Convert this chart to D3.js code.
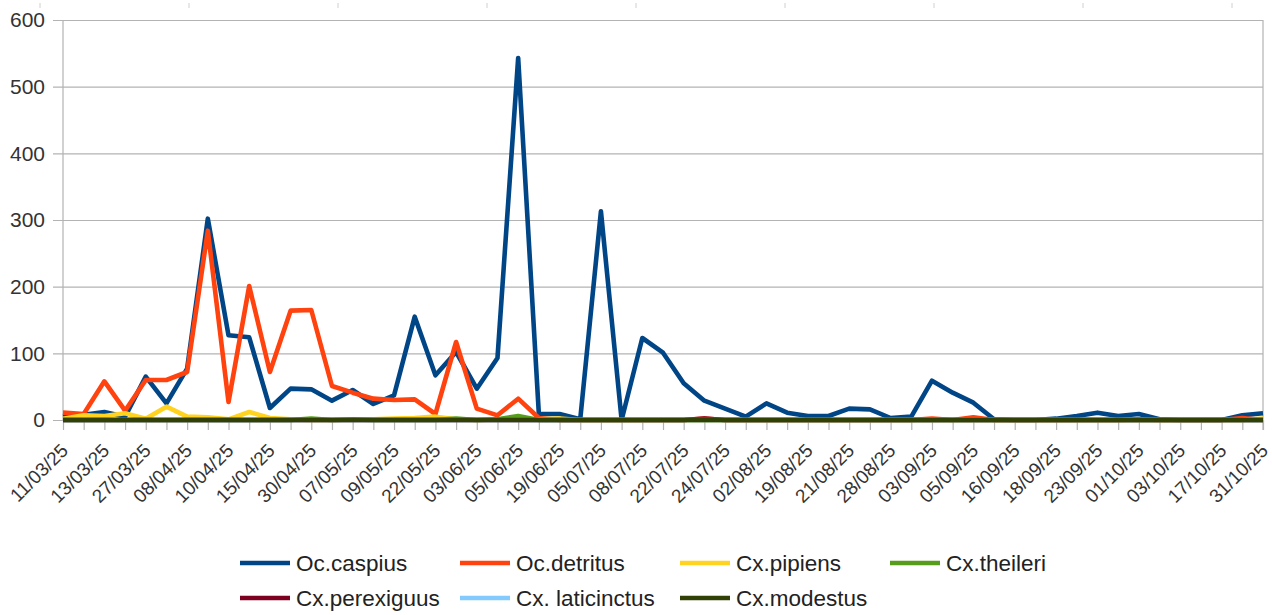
<!DOCTYPE html>
<html>
<head>
<meta charset="utf-8">
<script src="https://cdn.jsdelivr.net/npm/d3@7"></script>
<style>
  html, body { margin: 0; padding: 0; background: #fff; }
  svg { display: block; font-family: "Liberation Sans", Arial, sans-serif; }
</style>
</head>
<body>
<svg id="chart" width="1272" height="615"></svg>
<script>
// ---- data ----
const categories = [
  "11/03/25","12/03/25","13/03/25","25/03/25","27/03/25","01/04/25","08/04/25","09/04/25",
  "10/04/25","14/04/25","15/04/25","23/04/25","30/04/25","02/05/25","07/05/25","08/05/25",
  "09/05/25","14/05/25","22/05/25","27/05/25","03/06/25","04/06/25","05/06/25","12/06/25",
  "19/06/25","26/06/25","05/07/25","07/07/25","08/07/25","15/07/25","22/07/25","23/07/25",
  "24/07/25","29/07/25","02/08/25","07/08/25","19/08/25","20/08/25","21/08/25","26/08/25",
  "28/08/25","02/09/25","03/09/25","04/09/25","05/09/25","10/09/25","16/09/25","17/09/25",
  "18/09/25","22/09/25","23/09/25","30/09/25","01/10/25","02/10/25","03/10/25","10/10/25",
  "17/10/25","24/10/25","31/10/25"
];
const seriesNames = ["Oc.caspius","Oc.detritus","Cx.pipiens","Cx.theileri","Cx.perexiguus","Cx. laticinctus","Cx.modestus"];
const ocCaspius = [5,8,12,5,65,25,77,302,127,124,18,47,46,29,45,24,37,155,67,102,47,93,543,9,
  9,1,313,0,123,101,55,29,17,5,25,11,6,6,17,16,3,5,59,41,26,1,0,0,
  2,6,11,6,9,1,0,0,0,7,10];
const ocDetritus = [11,9,58,14,60,60,72,284,27,201,72,164,165,51,41,32,30,31,9,117,17,7,32,3,
  0,0,0,0,0,0,0,2,0,0,0,0,0,0,0,0,0,0,2,0,4,0,0,0,
  0,0,0,0,1,0,0,0,0,3,0];
const cxPipiens = [2,7,6,10,2,20,5,4,1,12,3,1,0,0,1,1,2,3,5,1,0,1,1,1,
  2,0,0,0,0,0,0,0,0,0,0,0,0,0,0,0,0,0,0,0,0,0,0,0,
  0,0,0,0,0,0,0,0,0,0,2];
const cxTheileri = [0,0,0,0,0,0,0,0,0,0,0,0,2,0,1,0,0,0,0,2,0,1,6,0,
  0,0,0,0,0,0,0,0,0,0,0,0,0,0,0,0,0,0,0,0,0,0,0,0,
  0,0,0,0,0,0,0,0,0,0,0];
const cxPerexiguus = [0,0,0,0,0,0,0,0,0,0,0,0,0,0,0,0,0,0,0,0,0,0,0,0,
  0,0,0,0,0,0,0,2,0,0,0,0,0,0,0,0,0,0,0,0,0,0,0,0,
  0,0,0,0,0,0,0,0,0,0,0];
const cxLaticinctus = categories.map(() => 0);
const cxModestus = categories.map(() => 0);
const yTicks = [0,100,200,300,400,500,600];
const colors = ["#004586","#ff420e","#ffd320","#579d1c","#7e0021","#83caff","#314004"];

const seriesValues = [ocCaspius, ocDetritus, cxPipiens, cxTheileri, cxPerexiguus, cxLaticinctus, cxModestus];

// ---- layout ----
const svg = d3.select("#chart");
const mLeft = 63, mRight = 1263, mTop = 20, mBottom = 420;

const x = d3.scalePoint().domain(categories).range([mLeft, mRight]);
const y = d3.scaleLinear().domain([0, 600]).range([mBottom, mTop]);

// faint marks along the top
const topMarks = [40,189,338,487,636,785,934,1083,1232];
svg.append("g").selectAll("line").data(topMarks).join("line")
  .attr("x1", d => d).attr("x2", d => d).attr("y1", 3).attr("y2", 8)
  .attr("stroke", "#d0d0d0").attr("stroke-width", 1);

// grid lines + y axis
const yAxis = d3.axisLeft(y).tickValues(yTicks).tickSize(-(mRight - mLeft)).tickPadding(8)
  .tickFormat(d3.format("d"));
const gy = svg.append("g").attr("transform", `translate(${mLeft},0)`).call(yAxis);
gy.select(".domain").remove();
gy.selectAll(".tick line").attr("stroke", "#b3b3b3").attr("stroke-width", 1.2)
  .attr("x1", -10);
gy.selectAll(".tick text").attr("font-size", 21).attr("fill", "#333").attr("x", -18);

// left and right frame
svg.append("line").attr("x1", mLeft).attr("x2", mLeft).attr("y1", mTop).attr("y2", mBottom)
  .attr("stroke", "#b3b3b3").attr("stroke-width", 1.2);
svg.append("line").attr("x1", mRight).attr("x2", mRight).attr("y1", mTop).attr("y2", mBottom + 10)
  .attr("stroke", "#b3b3b3").attr("stroke-width", 1.2);

// x axis
const xAxis = d3.axisBottom(x).tickSize(10).tickFormat(d => d);
const gx = svg.append("g").attr("transform", `translate(0,${mBottom})`).call(xAxis);
gx.select(".domain").attr("stroke", "#b3b3b3");
gx.selectAll(".tick line").attr("stroke", "#b3b3b3").attr("stroke-width", 1.2);
gx.selectAll(".tick text")
  .style("display", (d, i) => i % 2 === 0 ? null : "none")
  .attr("font-size", 19).attr("fill", "#333")
  .attr("text-anchor", "end")
  .attr("y", 0).attr("dy", "0.35em")
  .attr("transform", "translate(1,27) rotate(-45)");

// lines
const line = d3.line().x((d, i) => x(categories[i])).y(d => y(d));
svg.append("g").selectAll("path").data(seriesValues).join("path")
  .attr("d", d => line(d))
  .attr("fill", "none")
  .attr("stroke", (d, i) => colors[i])
  .attr("stroke-width", 4.6)
  .attr("stroke-linejoin", "round")
  .attr("stroke-linecap", "butt");

// legend
const legendCols = [240, 460, 680, 890];
const legendRows = [563, 598];
const lg = svg.append("g").selectAll("g").data(seriesNames).join("g")
  .attr("transform", (d, i) => `translate(${legendCols[i % 4]},${legendRows[Math.floor(i / 4)]})`);
lg.append("line").attr("x1", 0).attr("x2", 50).attr("y1", 0).attr("y2", 0)
  .attr("stroke", (d, i) => colors[i]).attr("stroke-width", 4.6);
lg.append("text").attr("x", 56).attr("dy", "0.35em").attr("font-size", 22.5).attr("fill", "#222")
  .text(d => d);
</script>
</body>
</html>
